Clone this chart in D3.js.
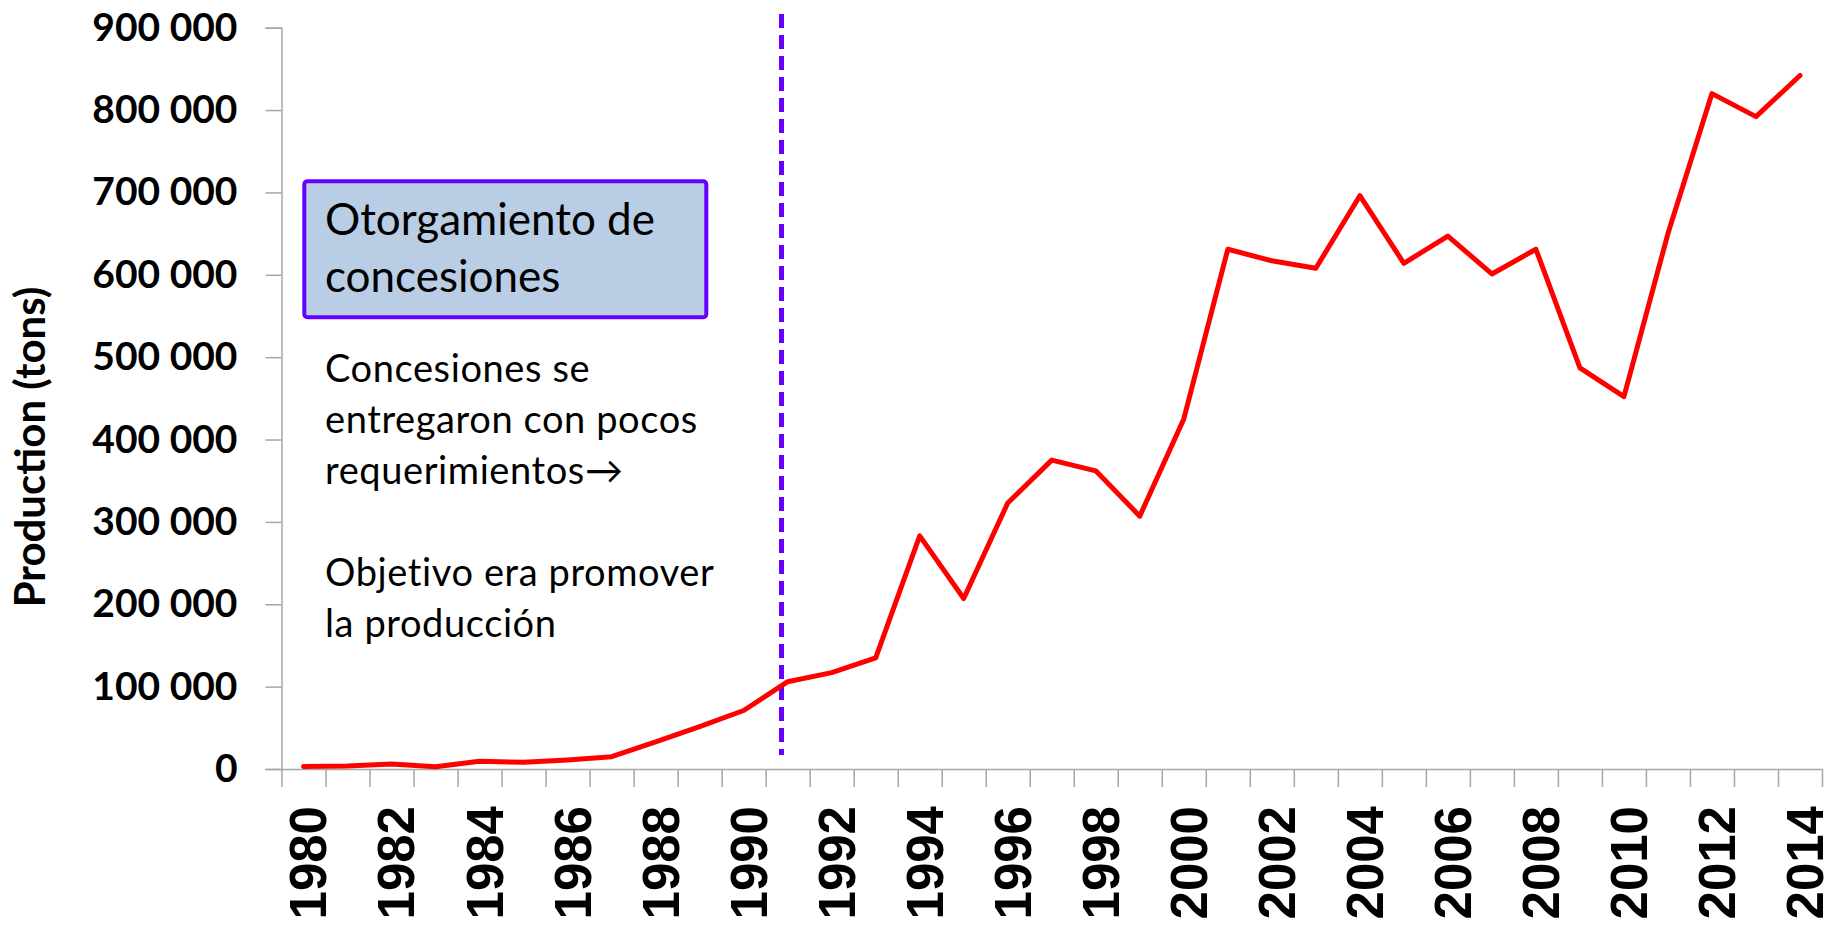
<!DOCTYPE html>
<html>
<head>
<meta charset="utf-8">
<script src="https://cdn.jsdelivr.net/npm/d3@7"></script>
<style>
  body { margin: 0; background: #fff; }
  svg { display: block; }
</style>
</head>
<body>
<svg id="chart" width="1845" height="926"></svg>
<script>
// production per year, tons
const years = d3.range(1980, 2015);
const production = [
    3000, 3500, 6000, 2800, 9300, 8100, 11000, 15000, 33000, 51500,
    71000, 106000, 117000, 135000, 283000, 207000, 323000, 375000, 362000, 307000,
    425000, 631000, 617000, 608000, 696000, 614000, 647000, 601000, 631000, 487000,
    452000, 650000, 820000, 792000, 842000
];
const yTicks = d3.range(0, 900001, 100000);
const labelYears = d3.range(1980, 2015, 2);
const concessionYear = 1990.86;  // dashed marker sits just before 1991

const boxTitle = ["Otorgamiento de", "concesiones"];
const notes = [
    "Concesiones se",
    "entregaron con pocos",
    "requerimientos\u2192",
    "",
    "Objetivo era promover",
    "la producci\u00f3n"
];

const svg = d3.select('#chart');
const axisGrey = '#a6a6a6';
const violet = '#6600ff';

const x = d3.scaleLinear().domain([1979.5, 2014.5]).range([281.5, 1822]);
const y = d3.scaleLinear().domain([0, 900000]).range([769, 27.7]);

// y axis
const yAxis = svg.append('g')
    .attr('transform', `translate(${x(1979.5)},0)`)
    .call(d3.axisLeft(y)
        .tickValues(yTicks)
        .tickSize(16)
        .tickPadding(28)
        .tickFormat(d => d3.format(',')(d).replace(/,/g, ' ')));
yAxis.select('.domain').attr('stroke', axisGrey).attr('stroke-width', 1.5);
yAxis.selectAll('.tick line').attr('stroke', axisGrey).attr('stroke-width', 1.5);
yAxis.selectAll('.tick text')
    .style('font-family', 'Lato, sans-serif')
    .style('font-weight', 'bold')
    .style('font-size', '39px')
    .attr('fill', '#000');

// x axis, ticks between categories
const xAxis = svg.append('g')
    .attr('transform', `translate(0,${y(0)})`)
    .call(d3.axisBottom(x)
        .tickValues(d3.range(1979.5, 2015, 1))
        .tickSize(18)
        .tickSizeOuter(0)
        .tickFormat(''));
xAxis.select('.domain').attr('stroke', axisGrey).attr('stroke-width', 1.5);
xAxis.selectAll('.tick line').attr('stroke', axisGrey).attr('stroke-width', 1.5);

svg.append('g').selectAll('text')
    .data(labelYears)
    .enter().append('text')
    .attr('transform', d => `translate(${x(d)},806) rotate(-90)`)
    .attr('text-anchor', 'end')
    .attr('dy', '0.45em')
    .style('font-family', '"Liberation Sans", Arial, sans-serif')
    .style('font-weight', 'bold')
    .style('font-size', '51px')
    .text(d => d);

// axis title
svg.append('text')
    .attr('transform', 'translate(45,447) rotate(-90)')
    .attr('text-anchor', 'middle')
    .style('font-family', 'Lato, sans-serif')
    .style('font-weight', 'bold')
    .style('font-size', '42px')
    .text('Production (tons)');

// concession marker
svg.append('line')
    .attr('x1', x(concessionYear)).attr('x2', x(concessionYear))
    .attr('y1', 14).attr('y2', 755)
    .attr('stroke', violet)
    .attr('stroke-width', 5)
    .attr('stroke-dasharray', '14 7');

// production line
const line = d3.line()
    .x((d, i) => x(years[i]))
    .y(d => y(d));

svg.append('path')
    .datum(production)
    .attr('d', line)
    .attr('fill', 'none')
    .attr('stroke', '#ff0000')
    .attr('stroke-width', 5)
    .attr('stroke-linejoin', 'round')
    .attr('stroke-linecap', 'round');

// annotation box
svg.append('rect')
    .attr('x', 304.3).attr('y', 181.3)
    .attr('width', 402).attr('height', 136)
    .attr('rx', 3)
    .attr('fill', '#b9cde5')
    .attr('stroke', violet)
    .attr('stroke-width', 4);

svg.append('g').selectAll('text')
    .data(boxTitle)
    .enter().append('text')
    .attr('x', 325)
    .attr('y', (d, i) => 235 + i * 56.7)
    .style('font-family', 'Lato, sans-serif')
    .style('font-size', '44px')
    .text(d => d);

svg.append('g').selectAll('text')
    .data(notes)
    .enter().append('text')
    .attr('x', 325)
    .attr('y', (d, i) => 381.7 + i * 51.1)
    .style('font-family', 'Lato, sans-serif')
    .style('font-size', '38px')
    .style('letter-spacing', '0.6px')
    .text(d => d);
</script>
</body>
</html>
